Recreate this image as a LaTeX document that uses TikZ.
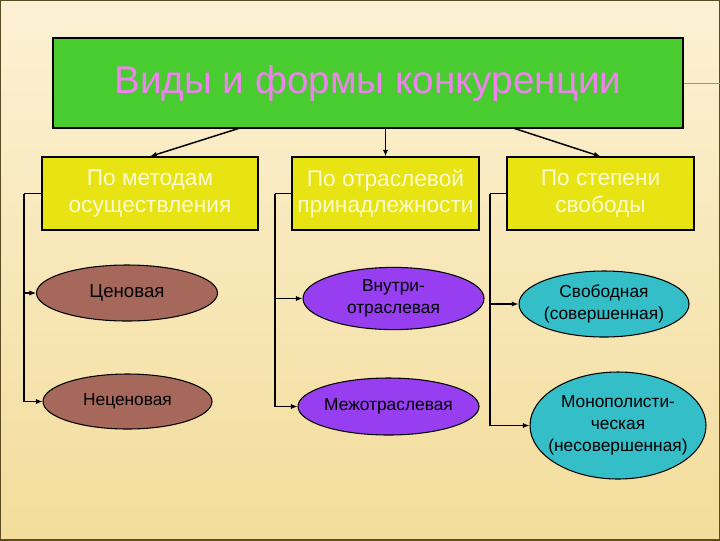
\documentclass[tikz,border=0pt]{standalone}
\usepackage{fontspec}
\setmainfont{Liberation Sans}
\usetikzlibrary{arrows.meta,shapes.geometric}

\definecolor{bgtop}{RGB}{252,241,212}
\definecolor{bgbot}{RGB}{243,221,156}
\definecolor{frame}{RGB}{90,75,35}
\definecolor{titlegreen}{RGB}{72,204,48}
\definecolor{titlepink}{RGB}{240,130,240}
\definecolor{boxyellow}{RGB}{232,228,20}
\definecolor{boxtext}{RGB}{252,250,210}
\definecolor{brownov}{RGB}{165,104,90}
\definecolor{violetov}{RGB}{150,62,240}
\definecolor{cyanov}{RGB}{52,190,200}

\newcommand{\ovtext}[1]{\makebox[0pt]{\begin{tabular}{@{}c@{}}#1\end{tabular}}}

\begin{document}
\begin{tikzpicture}[x=0.75pt,y=-0.75pt,
  headbox/.style={draw,thick,fill=titlegreen,inner sep=0pt,
    minimum width=472.5pt,minimum height=67.5pt,text=titlepink,
    font=\fontsize{29}{34}\selectfont},
  groupbox/.style={draw,thick,fill=boxyellow,inner sep=0pt,align=center,
    minimum height=54.75pt,text=boxtext,font=\fontsize{17}{20}\selectfont},
  kind/.style={draw,thick,ellipse,inner sep=0pt,
    font=\fontsize{13}{16.5}\selectfont},
  arr/.style={-{Latex[length=5pt,width=4pt]},line width=0.8pt},
  link/.style={line width=0.8pt}]

  \useasboundingbox (0,0) rectangle (720,540);
  \shade[top color=bgtop,bottom color=bgbot] (0,0) rectangle (720,540);
  \draw[line width=2pt,frame] (0,0) rectangle (720,540);
  \draw[orange!80!brown] (683,83) -- (720,83);

  % title
  \node[headbox] (title) at (368,83) {Виды и формы конкуренции};

  % groups
  \node[groupbox,minimum width=162pt] (m1) at (150,193.5)
    {По методам\\осуществления};
  \node[groupbox,minimum width=140.25pt] (m2) at (385.5,193.5)
    {По отраслевой\\принадлежности};
  \node[groupbox,minimum width=140.25pt] (m3) at (600.5,193.5)
    {По степени\\свободы};

  \coordinate (t1) at (240,128);
  \coordinate (t3) at (513,128);
  \draw[arr,line width=1.1pt] (t1) -- (m1.north);
  \draw[arr,line width=1.1pt] (m2.north |- title.south) -- (m2.north);
  \draw[arr,line width=1.1pt] (t3) -- (m3.north);

  % kinds
  \node[kind,fill=brownov,minimum width=135.75pt,minimum height=42pt,
    font=\fontsize{14}{17}\selectfont] (cen) at (127,293) {\ovtext{Ценовая}};
  \node[kind,fill=brownov,minimum width=126.75pt,minimum height=41.25pt]
    (necen) at (127.5,401.5) {\ovtext{Неценовая}};
  \node[kind,fill=violetov,minimum width=135.75pt,minimum height=41.25pt]
    (vnutri) at (393.5,298.5) {\ovtext{Внутри-\\отраслевая}};
  \node[kind,fill=violetov,minimum width=135.75pt,minimum height=42.75pt]
    (mezh) at (388.5,406.5) {\ovtext{Межотраслевая}};
  \node[kind,fill=cyanov,minimum width=127.5pt,minimum height=49.5pt]
    (svob) at (604,304) {\ovtext{Свободная\\(совершенная)}};
  \node[kind,fill=cyanov,minimum width=132pt,minimum height=80.25pt]
    (monop) at (618,425.5) {\ovtext{Монополисти-\\ческая\\(несовершенная)}};

  % connectors
  \coordinate (l1) at (24,193.5);
  \coordinate (l2) at (275,193.5);
  \coordinate (l3) at (490,193.5);

  \draw[link] (m1.west) -- (l1);
  \draw[arr] (l1) |- (necen.west);
  \draw[arr] (l1 |- cen.west) -- (cen.west);

  \draw[link] (m2.west) -- (l2);
  \draw[arr] (l2) |- (mezh.west);
  \draw[arr] (l2 |- vnutri.west) -- (vnutri.west);

  \draw[link] (m3.west) -- (l3);
  \draw[arr,line width=1.1pt] (l3) |- (monop.west);
  \draw[arr,line width=1.1pt] (l3 |- svob.west) -- (svob.west);

\end{tikzpicture}
\end{document}
